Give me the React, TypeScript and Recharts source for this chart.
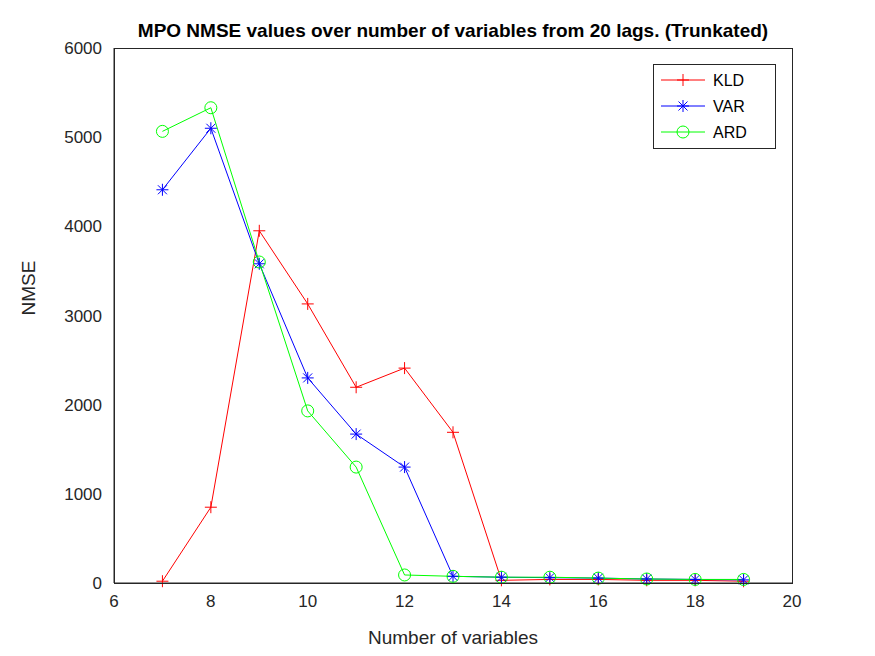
import React from "react";
import { LineChart, Line, XAxis, YAxis } from "recharts";

const vars = [7, 8, 9, 10, 11, 12, 13, 14, 15, 16, 17, 18, 19];
const kld = [20, 850, 3950, 3130, 2195, 2410, 1690, 30, 40, 40, 30, 30, 20];
const varS = [4410, 5100, 3580, 2300, 1670, 1300, 75, 65, 60, 55, 45, 40, 35];
const ard = [5065, 5330, 3600, 1930, 1300, 90, 75, 65, 65, 55, 45, 40, 40];
const xTicks = [6, 8, 10, 12, 14, 16, 18, 20];
const yTicks = [0, 1000, 2000, 3000, 4000, 5000, 6000];

const data = vars.map((v, i) => ({ x: v, kld: kld[i], var: varS[i], ard: ard[i] }));

const Plus = (p: any) => (
  <g stroke="#ff0000" strokeWidth={1}>
    <line x1={p.cx - 6} x2={p.cx + 6} y1={p.cy} y2={p.cy} />
    <line x1={p.cx} x2={p.cx} y1={p.cy - 6} y2={p.cy + 6} />
  </g>
);
const Star = (p: any) => (
  <g stroke="#0000ff" strokeWidth={1}>
    <line x1={p.cx - 6} x2={p.cx + 6} y1={p.cy} y2={p.cy} />
    <line x1={p.cx} x2={p.cx} y1={p.cy - 6} y2={p.cy + 6} />
    <line x1={p.cx - 4.5} x2={p.cx + 4.5} y1={p.cy - 4.5} y2={p.cy + 4.5} />
    <line x1={p.cx - 4.5} x2={p.cx + 4.5} y1={p.cy + 4.5} y2={p.cy - 4.5} />
  </g>
);
const Circ = (p: any) => <circle cx={p.cx} cy={p.cy} r={6} stroke="#00ff00" fill="none" strokeWidth={1} />;

const font = "'Liberation Sans', Arial, sans-serif";
const tick = { fill: "#262626", fontSize: 17, fontFamily: font };

export default function App() {
  return (
    <div style={{ position: "absolute", left: 0, top: 0, width: 875, height: 656, background: "#fff", fontFamily: font }}>
      <LineChart width={875} height={656} data={data} margin={{ top: 48, right: 83, left: 0, bottom: 0 }}>
        <XAxis dataKey="x" type="number" domain={[6, 20]} ticks={xTicks} height={73} stroke="#262626"
          tick={tick} tickLine={false} tickMargin={6}
          label={{ value: "Number of variables", position: "insideBottom", offset: 12, fill: "#262626", fontSize: 19, fontFamily: font }} />
        <YAxis type="number" domain={[0, 6000]} ticks={yTicks} width={114} stroke="#262626" tick={tick}
          tickLine={false} tickMargin={6} interval={0}
          label={{ value: "NMSE", angle: -90, position: "insideLeft", offset: 28, fill: "#262626", fontSize: 19, fontFamily: font }} />
        <Line dataKey="kld" stroke="#ff0000" strokeWidth={1} dot={<Plus />} isAnimationActive={false} />
        <Line dataKey="var" stroke="#0000ff" strokeWidth={1} dot={<Star />} isAnimationActive={false} />
        <Line dataKey="ard" stroke="#00ff00" strokeWidth={1} dot={<Circ />} isAnimationActive={false} />
      </LineChart>
      <div style={{ position: "absolute", left: 114, top: 48, width: 677, height: 534, border: "1px solid #262626", pointerEvents: "none" }} />
      <div style={{ position: "absolute", left: 0, width: 906, top: 20, textAlign: "center", fontWeight: "bold", fontSize: 19, color: "#000" }}>
        MPO NMSE values over number of variables from 20 lags. (Trunkated)
      </div>
      <svg style={{ position: "absolute", left: 653, top: 64 }} width={124} height={86}>
        <rect x={0.5} y={0.5} width={122} height={84} fill="#fff" stroke="#262626" />
        {[
          { y: 16, c: "#ff0000", t: "KLD", m: "p" },
          { y: 42, c: "#0000ff", t: "VAR", m: "s" },
          { y: 68, c: "#00ff00", t: "ARD", m: "c" },
        ].map((r) => (
          <g key={r.t}>
            <line x1={8} x2={52} y1={r.y} y2={r.y} stroke={r.c} />
            {r.m === "p" && <Plus cx={30} cy={r.y} />}
            {r.m === "s" && <Star cx={30} cy={r.y} />}
            {r.m === "c" && <Circ cx={30} cy={r.y} />}
            <text x={60} y={r.y + 6} fontSize={16} fill="#000" fontFamily={font}>{r.t}</text>
          </g>
        ))}
      </svg>
    </div>
  );
}
